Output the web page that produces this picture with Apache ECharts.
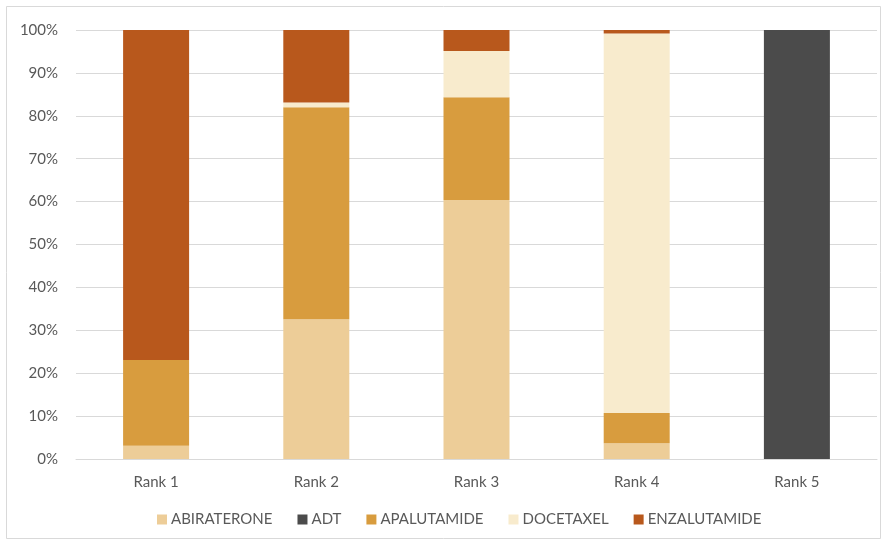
<!DOCTYPE html>
<html><head><meta charset="utf-8">
<script src="https://cdn.jsdelivr.net/npm/echarts@6/dist/echarts.min.js"></script>
<style>html,body{margin:0;padding:0;background:#fff}#c{width:887px;height:545px}</style>
</head><body><div id="c"></div>
<script>
var categories = ['Rank 1','Rank 2','Rank 3','Rank 4','Rank 5'];
var seriesNames = ['ABIRATERONE','ADT','APALUTAMIDE','DOCETAXEL','ENZALUTAMIDE'];
var abiraterone = [3.1, 32.6, 60.4, 3.7, 0];
var adt = [0, 0, 0, 0, 100];
var apalutamide = [20.0, 49.4, 23.9, 7.0, 0];
var docetaxel = [0, 1.1, 10.8, 88.5, 0];
var enzalutamide = [76.9, 16.9, 4.9, 0.8, 0];
var yTicks = [0,10,20,30,40,50,60,70,80,90,100];

var colors = ['#EDCD98','#4B4B4B','#D89C3E','#F8EBCD','#B8581C'];
var dataSets = [abiraterone, adt, apalutamide, docetaxel, enzalutamide];
var font = 'Lato';
var chart = echarts.init(document.getElementById('c'), null, {renderer:'canvas'});
chart.setOption({
  animation:false,
  backgroundColor:'#fff',
  color: colors,
  graphic:[{type:'rect', shape:{x:6.5,y:6.5,width:874,height:532}, style:{fill:'none',stroke:'#d9d9d9',lineWidth:1}, silent:true}],
  grid:{left:76,right:10,top:30,bottom:86},
  legend:{
    bottom:13, left:152, itemWidth:10, itemHeight:10, itemGap:25,
    icon:'rect',
    textStyle:{fontFamily:font,fontSize:15,color:'#595959',padding:[0,0,0,-1]},
    data: seriesNames
  },
  xAxis:{type:'category',data:categories,
    axisLine:{lineStyle:{color:'#d9d9d9'}}, axisTick:{show:false},
    axisLabel:{fontFamily:font,fontSize:15,color:'#595959',margin:16}},
  yAxis:{type:'value',min:0,max:100,interval:10,
    axisLine:{show:false},axisTick:{show:false},
    splitLine:{lineStyle:{color:'#d9d9d9'}},
    axisLabel:{fontFamily:font,fontSize:15,color:'#595959',margin:18,
      formatter:function(v){return yTicks.indexOf(v)>=0? v+'%':'';}}},
  series: seriesNames.map(function(n,i){
    return {name:n,type:'bar',stack:'s',barWidth:66,data:dataSets[i],
      itemStyle:{color:colors[i]}};
  })
});
</script></body></html>
